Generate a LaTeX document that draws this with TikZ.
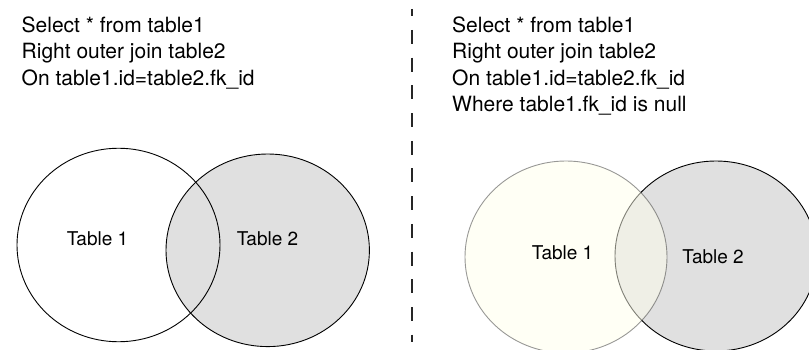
\documentclass[tikz,border=0pt]{standalone}
\usepackage{fontspec}
\setmainfont{TeX Gyre Heros}
\usetikzlibrary{shapes.geometric}
\definecolor{setgray}{RGB}{224,224,224}
\definecolor{setyellow}{RGB}{255,255,236}
\definecolor{setstroke}{RGB}{51,51,51}
\begin{document}
\begin{tikzpicture}[x=1pt,y=-1pt,
  sqltext/.style={anchor=base west, inner sep=0pt, font=\fontsize{21}{26}\selectfont},
  tlabel/.style={anchor=base, inner sep=0pt, font=\fontsize{19}{23}\selectfont},
  venn/.style={ellipse, inner sep=0pt, line width=0.9pt},
  divider/.style={line width=1.3pt, black!85, dash pattern=on 14pt off 13.7pt, dash phase=6.7pt}]
\useasboundingbox (0,0) rectangle (809,350);

% left panel text
\node[sqltext] (l1) at (21.5,32.5) {Select * from table1};
\node[sqltext] (l2) at (21.5,59) {Right outer join table2};
\node[sqltext] (l3) at (21.5,85.5) {On table1.id=table2.fk\_id};

% left venn
\node[venn, draw=black, fill=setgray, minimum width=203.4pt, minimum height=192.6pt] (lb) at (267.7,250.3) {};
\node[venn, draw=black, minimum width=203pt, minimum height=193.5pt] (la) at (118.5,245) {};
\node[tlabel] (lat) at (97.5,245) {Table 1};
\node[tlabel] (lbt) at (267.5,245) {Table 2};

% divider
\coordinate (dtop) at (412,9);
\coordinate (dbot) at (412,342);
\draw[divider] (dtop) -- (dbot);

% right panel text
\node[sqltext] (r1) at (452,32.5) {Select * from table1};
\node[sqltext] (r2) at (452,59) {Right outer join table2};
\node[sqltext] (r3) at (452,85.5) {On table1.id=table2.fk\_id};
\node[sqltext] (r4) at (452,112) {Where table1.fk\_id is null};

% right venn
\node[venn, draw=black, fill=setgray, minimum width=202pt, minimum height=190pt] (rb) at (716,256) {};
\node[venn, draw=setstroke, fill=setyellow, opacity=0.5, minimum width=202pt, minimum height=192pt] (ra) at (566,257) {};
\node[tlabel] (rat) at (562.5,259) {Table 1};
\node[tlabel] (rbt) at (713,263) {Table 2};
\end{tikzpicture}
\end{document}
